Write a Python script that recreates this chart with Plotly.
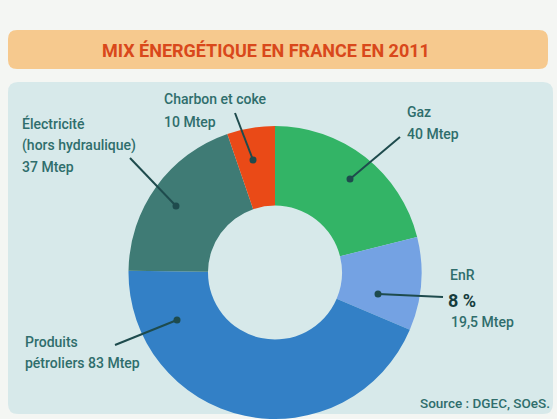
import plotly.graph_objects as go

W, H = 557, 419

# ---- data ----
labels = ["Gaz", "EnR", "Produits pétroliers", "Électricité (hors hydraulique)", "Charbon et coke"]
values = [40, 19.5, 83, 37, 10]
colors = ["#33b466", "#74a2e3", "#3380c6", "#3f7b75", "#ea4a17"]

title_text = "MIX ÉNERGÉTIQUE EN FRANCE EN 2011"
source_text = "Source : DGEC, SOeS."

# label text lines: (text, x, y, size, bold)
label_lines = [
    ("Charbon et coke", 162, 99, 14, False),
    ("10 Mtep", 162, 122, 14, False),
    ("Électricité", 20, 123, 14, False),
    ("(hors hydraulique)", 20, 145, 14, False),
    ("37 Mtep", 20, 167, 14, False),
    ("Gaz", 405, 112, 14, False),
    ("40 Mtep", 405, 134, 14, False),
    ("EnR", 448, 275, 14, False),
    ("8 %", 446, 300, 18, True),
    ("19,5 Mtep", 449, 322, 14, False),
    ("Produits", 23, 342, 14, False),
    ("pétroliers 83 Mtep", 23, 363, 14, False),
]
# leader lines: (x_text_end, y_text_end, x_dot, y_dot)
leaders = [
    (235, 113, 253, 160),
    (130, 158, 176, 206),
    (400, 137, 350, 179),
    (443, 297, 378, 294),
    (115, 345, 177, 320),
]


def px(x):
    return x / W


def py(y):
    return 1 - y / H


def rounded_rect(x0, y0, x1, y1, r):
    X0, X1 = px(x0), px(x1)
    Y0, Y1 = py(y0), py(y1)
    rx, ry = r / W, r / H
    return (f"M {X0+rx},{Y0} L {X1-rx},{Y0} Q {X1},{Y0} {X1},{Y0-ry} "
            f"L {X1},{Y1+ry} Q {X1},{Y1} {X1-rx},{Y1} L {X0+rx},{Y1} "
            f"Q {X0},{Y1} {X0},{Y1+ry} L {X0},{Y0-ry} Q {X0},{Y0} {X0+rx},{Y0} Z")


cx, cy, R = 275, 272.5, 146.5

fig = go.Figure(go.Pie(
    labels=labels,
    values=values,
    marker=dict(colors=colors, line=dict(width=0)),
    hole=67 / R,
    sort=False,
    direction="clockwise",
    rotation=0,
    textinfo="none",
    showlegend=False,
    domain=dict(x=[px(cx - R), px(cx + R)], y=[0, py(cy - R)]),
))

shapes = [
    dict(type="path", path=rounded_rect(8, 30, 548, 69, 9), fillcolor="#f6c98e",
         line=dict(width=0), layer="below", xref="paper", yref="paper"),
    dict(type="path", path=rounded_rect(8, 82, 553, 414, 10), fillcolor="#d7e9ea",
         line=dict(width=0), layer="below", xref="paper", yref="paper"),
]
line_col = "#1e4b4d"
for x0, y0, x1, y1 in leaders:
    shapes.append(dict(type="line", xref="paper", yref="paper",
                       x0=px(x0), y0=py(y0), x1=px(x1), y1=py(y1),
                       line=dict(color=line_col, width=2)))
    r = 3.5
    shapes.append(dict(type="circle", xref="paper", yref="paper",
                       x0=px(x1 - r), x1=px(x1 + r), y0=py(y1 + r), y1=py(y1 - r),
                       fillcolor=line_col, line=dict(width=0)))

text_col = "#2f6e6c"
annotations = [
    dict(text=f"<b>{title_text}</b>", x=px(266), y=py(50), xref="paper", yref="paper",
         showarrow=False, xanchor="center", yanchor="middle",
         font=dict(family="Roboto", size=18, color="#d9481b")),
    dict(text=source_text, x=px(552), y=py(403), xref="paper", yref="paper",
         showarrow=False, xanchor="right", yanchor="middle",
         font=dict(family="Roboto", size=13.5, color=text_col, weight=500)),
]
for t, x, y, s, b in label_lines:
    annotations.append(dict(
        text=f"<b>{t}</b>" if b else t, x=px(x), y=py(y), xref="paper", yref="paper",
        showarrow=False, xanchor="left", yanchor="middle",
        font=dict(family="Roboto", size=s, color="#163c3d" if b else text_col,
                  weight=None if b else 500)))

fig.update_layout(
    width=W, height=H, margin=dict(l=0, r=0, t=0, b=0),
    paper_bgcolor="#f4f6f3", plot_bgcolor="#f4f6f3",
    shapes=shapes, annotations=annotations,
)

fig.write_html("out.html", config={"displayModeBar": False})
